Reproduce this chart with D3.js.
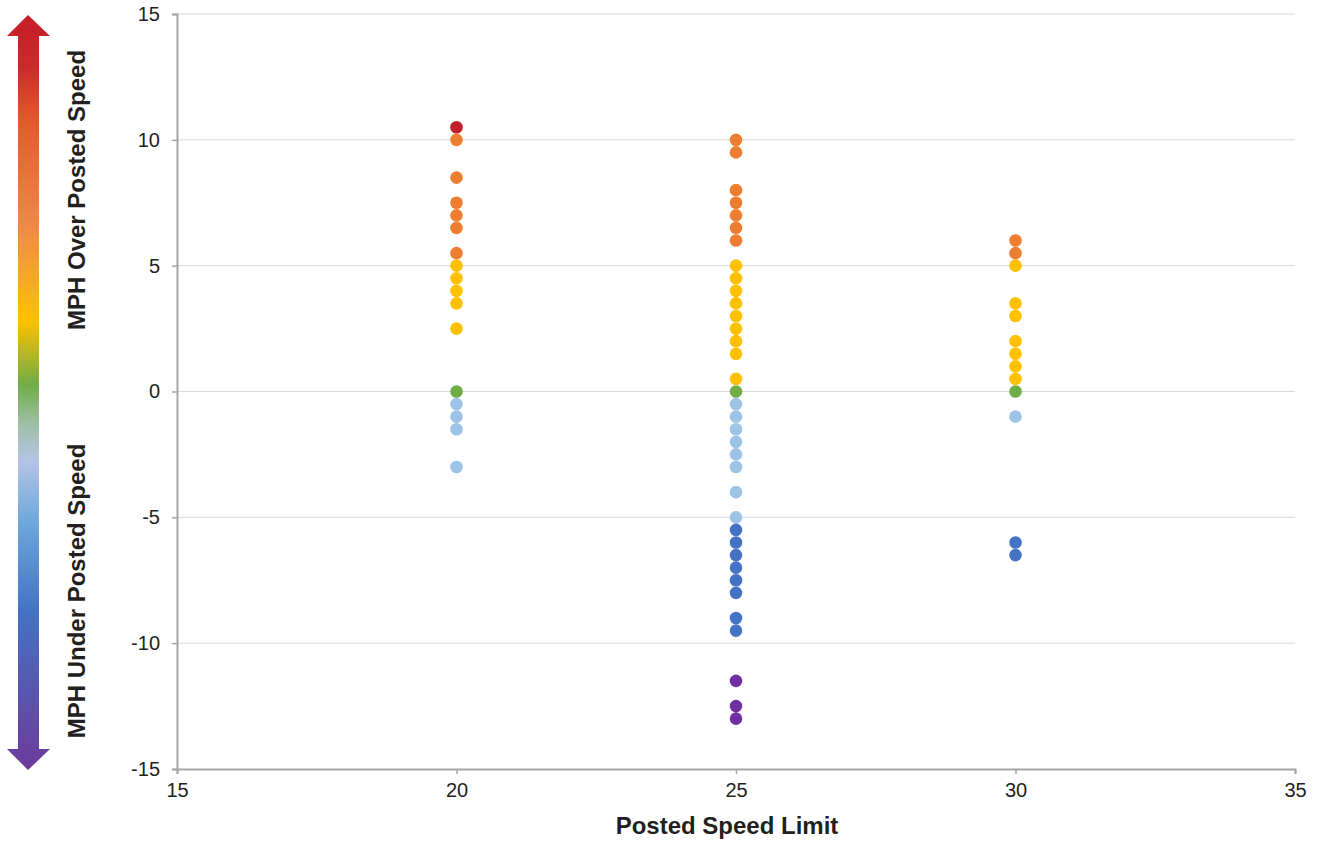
<!DOCTYPE html>
<html>
<head>
<meta charset="utf-8">
<script src="https://cdn.jsdelivr.net/npm/d3@7"></script>
<style>
  body { margin: 0; background: #fff; font-family: "Liberation Sans", Arial, sans-serif; }
  .tick text { font-size: 20px; fill: #231F20; }
</style>
</head>
<body>
<script>
// data: MPH over/under posted speed, for each posted limit
var limits = [20, 25, 30];
var speeds20 = [10.5, 10, 8.5, 7.5, 7, 6.5, 5.5, 5, 4.5, 4, 3.5, 2.5, 0, -0.5, -1, -1.5, -3];
var speeds25 = [10, 9.5, 8, 7.5, 7, 6.5, 6, 5, 4.5, 4, 3.5, 3, 2.5, 2, 1.5, 0.5, 0,
                -0.5, -1, -1.5, -2, -2.5, -3, -4, -5, -5.5, -6, -6.5, -7, -7.5, -8, -9, -9.5,
                -11.5, -12.5, -13];
var speeds30 = [6, 5.5, 5, 3.5, 3, 2, 1.5, 1, 0.5, 0, -1, -6, -6.5];
var xTicks = [15, 20, 25, 30, 35];
var yTicks = [-15, -10, -5, 0, 5, 10, 15];

var points = [];
[speeds20, speeds25, speeds30].forEach(function(arr, i) {
    arr.forEach(function(v) { points.push({limit: limits[i], diff: v}); });
});

// set the dimensions and margins of the graph
var margin = {top: 14, right: 26, bottom: 74, left: 177},
    width = 1321 - margin.left - margin.right,
    height = 843 - margin.top - margin.bottom;

var x = d3.scaleLinear().domain([15, 35]).range([0, width]);
var y = d3.scaleLinear().domain([-15, 15]).range([height, 0]);

function dotColor(v) {
    if (v > 10) return "#C0202A";
    if (v > 5) return "#ED7D31";
    if (v > 0) return "#FFC000";
    if (v === 0) return "#70AD47";
    if (v >= -5) return "#9DC3E6";
    if (v >= -10) return "#4472C4";
    return "#7030A0";
}

var root = d3.select("body").append("svg")
    .attr("width", 1321)
    .attr("height", 843);

var svg = root.append("g")
    .attr("transform", "translate(" + margin.left + "," + margin.top + ")");

// gridlines
svg.selectAll(".grid")
    .data(yTicks.filter(function(d) { return d > -15; }))
    .enter().append("line")
    .attr("x1", 0).attr("x2", width)
    .attr("y1", function(d) { return y(d); })
    .attr("y2", function(d) { return y(d); })
    .attr("stroke", "#D9D9D9")
    .attr("stroke-width", 1);

// axes (plain hyphen for negatives, like the original)
var fmt = function(d) { return String(d); };
var xAxis = svg.append("g")
    .attr("transform", "translate(0," + height + ")")
    .call(d3.axisBottom(x).tickValues(xTicks).tickSize(5).tickPadding(9).tickFormat(fmt));
var yAxis = svg.append("g")
    .call(d3.axisLeft(y).tickValues(yTicks).tickSize(5).tickPadding(12).tickFormat(fmt));
[xAxis, yAxis].forEach(function(a) {
    a.select(".domain").attr("stroke", "#A6A6A6").attr("stroke-width", 2);
    a.selectAll(".tick line").attr("stroke", "#A6A6A6").attr("stroke-width", 1.5);
    a.selectAll(".tick text").style("font-family", "'Liberation Sans', Arial, sans-serif");
});

// dots
svg.selectAll(".dot")
    .data(points)
    .enter().append("circle")
    .attr("class", "dot")
    .attr("cx", function(d) { return x(d.limit); })
    .attr("cy", function(d) { return y(d.diff); })
    .attr("r", 6.3)
    .attr("fill", function(d) { return dotColor(d.diff); });

// x axis title
root.append("text")
    .attr("x", 727)
    .attr("y", 834)
    .attr("text-anchor", "middle")
    .style("font-size", "24px")
    .style("font-weight", "bold")
    .style("fill", "#231F20")
    .text("Posted Speed Limit");

// gradient arrow on the left
var defs = root.append("defs");
var grad = defs.append("linearGradient")
    .attr("id", "arrowGrad")
    .attr("gradientUnits", "userSpaceOnUse")
    .attr("x1", 0).attr("x2", 0).attr("y1", 15).attr("y2", 770);
var stops = [
    [0, "#C41E2A"], [0.07, "#CD2A2A"], [0.14, "#E25A2A"], [0.28, "#EE8A46"],
    [0.37, "#F9B21A"], [0.405, "#FFC000"], [0.49, "#70AD47"], [0.54, "#9DBFA4"],
    [0.59, "#B4C4E4"], [0.67, "#6FA8DC"], [0.79, "#4472C4"], [1, "#6E3A9C"]
];
stops.forEach(function(s) {
    grad.append("stop").attr("offset", s[0]).attr("stop-color", s[1]);
});
root.append("path")
    .attr("d", "M28,15 L50,36 L39,36 L39,749 L50,749 L28,770 L7,749 L18,749 L18,36 L7,36 Z")
    .attr("fill", "url(#arrowGrad)");

root.append("text")
    .attr("transform", "translate(85,190) rotate(-90)")
    .attr("text-anchor", "middle")
    .style("font-size", "24px")
    .style("font-weight", "bold")
    .style("fill", "#231F20")
    .text("MPH Over Posted Speed");
root.append("text")
    .attr("transform", "translate(85,591) rotate(-90)")
    .attr("text-anchor", "middle")
    .style("font-size", "24px")
    .style("font-weight", "bold")
    .style("fill", "#231F20")
    .text("MPH Under Posted Speed");
</script>
</body>
</html>
